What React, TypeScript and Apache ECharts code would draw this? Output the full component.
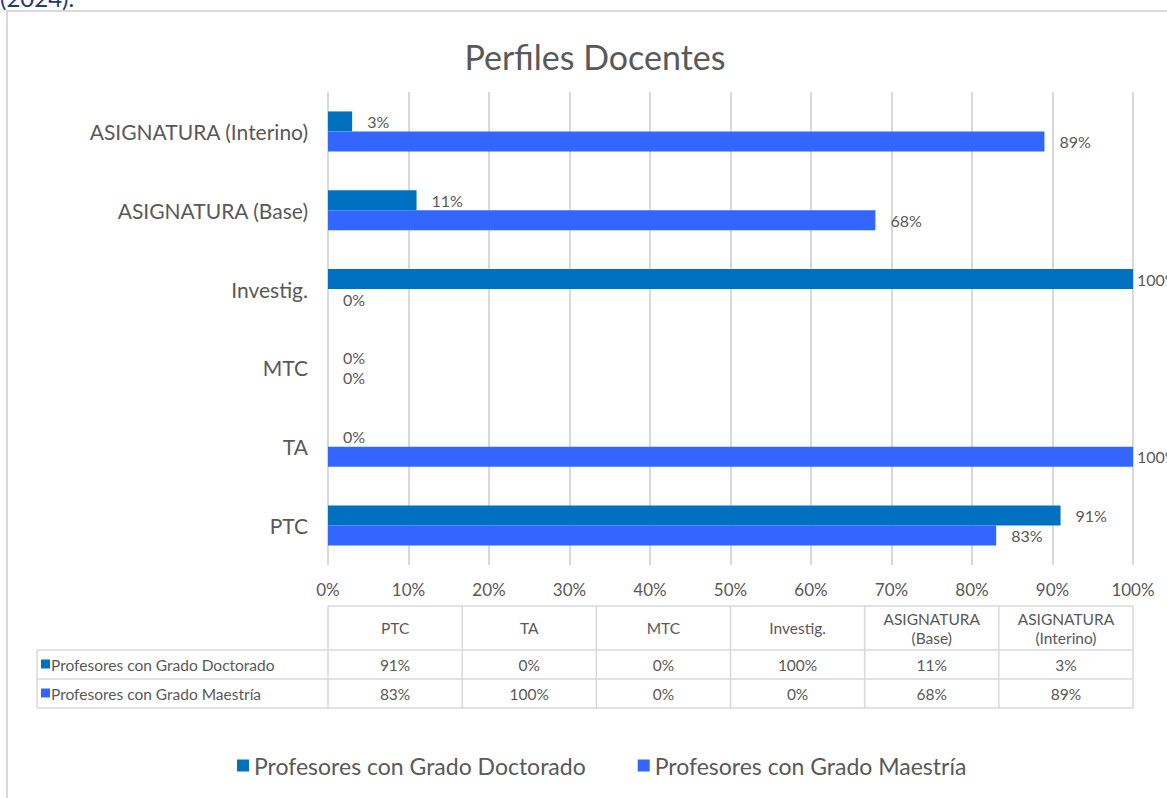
import React, { useEffect, useRef } from "react";
import * as echarts from "echarts";

const categories = ["PTC", "TA", "MTC", "Investig.", "ASIGNATURA (Base)", "ASIGNATURA (Interino)"];
const tableHeaders = ["PTC", "TA", "MTC", "Investig.", "ASIGNATURA\n(Base)", "ASIGNATURA\n(Interino)"];
const seriesNames = ["Profesores con Grado Doctorado", "Profesores con Grado Maestría"];
const doctorado = [91, 0, 0, 100, 11, 3];
const maestria = [83, 100, 0, 0, 68, 89];
const colors = ["#0070C0", "#3366FF"];
const xTicks = { min: 0, max: 100, interval: 10 };

const FONT = "Lato, 'Open Sans', sans-serif";
const GRAY = "#595959";
const LINE = "#D9D9D9";

export default function App() {
  const ref = useRef<HTMLDivElement>(null);
  useEffect(() => {
    if (!ref.current) return;
    const chart = echarts.init(ref.current, null, { renderer: "svg" });
    const gx0 = 328, gx1 = 1133;
    const colW = (gx1 - gx0) / categories.length;
    const hdrTop = 606, hdrH = 44, rowH = 29, legX = 37;
    const rowsTop = hdrTop + hdrH;
    const g: any[] = [];
    // frame
    g.push({ type: "rect", shape: { x: 7, y: 11, width: 1300, height: 900 }, style: { fill: "none", stroke: LINE, lineWidth: 2 }, silent: true });
    g.push({ type: "text", x: 0, y: -15, style: { text: "(2024).", fill: "#1F3B73", font: `24px ${FONT}` } });
    // table horizontal lines
    g.push({ type: "line", shape: { x1: gx0, y1: hdrTop, x2: gx1, y2: hdrTop }, style: { stroke: LINE, lineWidth: 1.5 } });
    for (let r = 0; r <= 2; r++) {
      const y = rowsTop + r * rowH;
      g.push({ type: "line", shape: { x1: legX, y1: y, x2: gx1, y2: y }, style: { stroke: LINE, lineWidth: 1.5 } });
    }
    // vertical lines
    g.push({ type: "line", shape: { x1: legX, y1: rowsTop, x2: legX, y2: rowsTop + 2 * rowH }, style: { stroke: LINE, lineWidth: 1.5 } });
    for (let c = 0; c <= categories.length; c++) {
      const x = gx0 + c * colW;
      g.push({ type: "line", shape: { x1: x, y1: hdrTop, x2: x, y2: rowsTop + 2 * rowH }, style: { stroke: LINE, lineWidth: 1.5 } });
    }
    tableHeaders.forEach((h, i) => {
      g.push({ type: "text", x: gx0 + (i + 0.5) * colW, y: hdrTop + hdrH / 2, style: { text: h, fill: GRAY, font: `15.5px ${FONT}`, align: "center", verticalAlign: "middle", lineHeight: 19 } });
    });
    [doctorado, maestria].forEach((arr, r) => {
      const cy = rowsTop + (r + 0.5) * rowH;
      g.push({ type: "rect", shape: { x: legX + 4, y: cy - 5, width: 9, height: 9 }, style: { fill: colors[r] } });
      g.push({ type: "text", x: legX + 14, y: cy, style: { text: seriesNames[r], fill: GRAY, font: `15.5px ${FONT}`, verticalAlign: "middle" } });
      arr.forEach((v, i) => {
        g.push({ type: "text", x: gx0 + (i + 0.5) * colW, y: cy, style: { text: v + "%", fill: GRAY, font: `15.5px ${FONT}`, align: "center", verticalAlign: "middle" } });
      });
    });

    const toData = (arr: number[]) => arr.map((v) => (v >= xTicks.max ? { value: v, label: { distance: 4 } } : v));
    const lbl = { show: true, position: "right", distance: 15, formatter: "{c}%", color: GRAY, fontSize: 16, fontFamily: FONT };

    chart.setOption({
      animation: false,
      textStyle: { fontFamily: FONT },
      title: { text: "Perfiles Docentes", left: 590, top: 34, textAlign: "center", textStyle: { color: GRAY, fontSize: 34, fontWeight: "normal", fontFamily: FONT } },
      grid: { left: gx0, right: 1167 - gx1, top: 92, bottom: 798 - 565, containLabel: false },
      legend: {
        left: 232, top: 749, itemWidth: 12, itemHeight: 12, itemGap: 52, icon: "rect",
        textStyle: { color: GRAY, fontSize: 23, fontFamily: FONT },
        data: seriesNames,
      },
      xAxis: {
        type: "value", min: xTicks.min, max: xTicks.max, interval: xTicks.interval,
        axisLabel: { formatter: "{value}%", color: GRAY, fontSize: 17, margin: 16, fontFamily: FONT },
        splitLine: { show: true, lineStyle: { color: LINE, width: 2 } },
        axisLine: { show: false }, axisTick: { show: false },
      },
      yAxis: {
        type: "category", data: categories,
        axisLabel: { color: GRAY, fontSize: 21, margin: 20, fontFamily: FONT },
        axisLine: { show: false }, axisTick: { show: false },
      },
      series: [
        { name: seriesNames[0], type: "bar", data: toData(doctorado), barWidth: 20, barGap: "0%", itemStyle: { color: colors[0] }, label: lbl },
        { name: seriesNames[1], type: "bar", data: toData(maestria), barWidth: 20, barGap: "0%", itemStyle: { color: colors[1] }, label: lbl },
      ],
      graphic: g,
    });
    return () => chart.dispose();
  }, []);
  return <div ref={ref} style={{ position: "absolute", left: 0, top: 0, width: 1167, height: 798, background: "#fff" }} />;
}
